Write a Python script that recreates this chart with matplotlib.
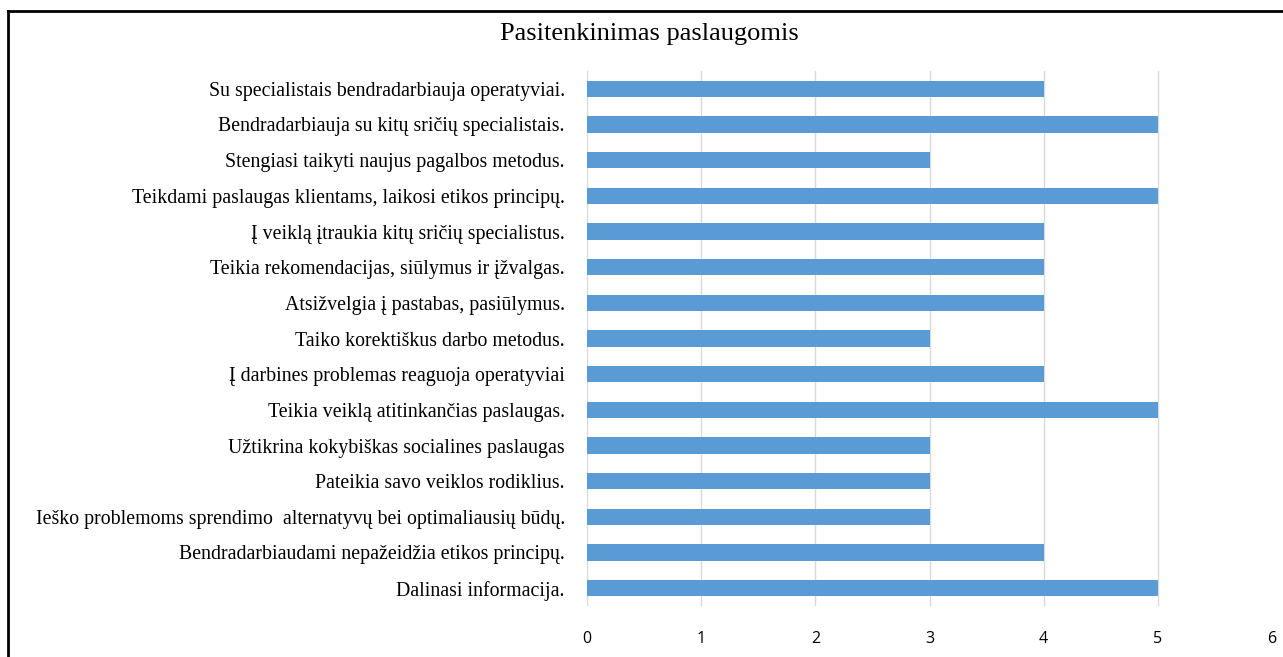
import matplotlib.pyplot as plt
from matplotlib.lines import Line2D

# Data, listed top to bottom as in the chart
labels = [
    "Su specialistais bendradarbiauja operatyviai.",
    "Bendradarbiauja su kitų sričių specialistais.",
    "Stengiasi taikyti naujus pagalbos metodus.",
    "Teikdami paslaugas klientams, laikosi etikos principų.",
    "Į veiklą įtraukia kitų sričių specialistus.",
    "Teikia rekomendacijas, siūlymus ir įžvalgas.",
    "Atsižvelgia į pastabas, pasiūlymus.",
    "Taiko korektiškus darbo metodus.",
    "Į darbines problemas reaguoja operatyviai",
    "Teikia veiklą atitinkančias paslaugas.",
    "Užtikrina kokybiškas socialines paslaugas",
    "Pateikia savo veiklos rodiklius.",
    "Ieško problemoms sprendimo  alternatyvų bei optimaliausių būdų.",
    "Bendradarbiaudami nepažeidžia etikos principų.",
    "Dalinasi informacija.",
]
values = [4, 5, 3, 5, 4, 4, 4, 3, 4, 5, 3, 3, 3, 4, 5]
ticks = [0, 1, 2, 3, 4, 5, 6]

fig = plt.figure(figsize=(12.83, 6.57), dpi=100)
ax = fig.add_axes([587 / 1283, 1 - 606 / 657, (1272 - 587) / 1283, (606 - 71) / 657])

y = list(range(len(labels)))[::-1]
ax.barh(y, values, height=0.45, color="#5b9bd5", zorder=2)

ax.set_xlim(0, 6)
ax.set_ylim(-0.5, len(labels) - 0.5)
ax.set_xticks(ticks)
ax.set_xticklabels([str(t) for t in ticks], fontfamily="Open Sans", fontsize=11.5)
ax.set_yticks(y)
ax.set_yticklabels(labels, fontfamily="Liberation Serif", fontsize=14.3)
ax.tick_params(axis="both", length=0)
ax.tick_params(axis="x", pad=18)
ax.tick_params(axis="y", pad=16)
# vertical gridlines at 0..5 (no line at 6 in the original)
for t in ticks[:-1]:
    ax.axvline(t, color="#d9d9d9", linewidth=1, zorder=0)
for s in ax.spines.values():
    s.set_visible(False)

fig.text(649 / 1283, 1 - 34 / 657, "Pasitenkinimas paslaugomis",
         fontfamily="Liberation Serif", fontsize=19, ha="center", va="center")

# frame lines (top and left) around the picture
fig.add_artist(Line2D([8 / 1283, 1.0], [1 - 11 / 657, 1 - 11 / 657],
                      transform=fig.transFigure, color="black", linewidth=2))
fig.add_artist(Line2D([8 / 1283, 8 / 1283], [0, 1 - 11 / 657],
                      transform=fig.transFigure, color="black", linewidth=2))

fig.savefig("out.png", dpi=100)
